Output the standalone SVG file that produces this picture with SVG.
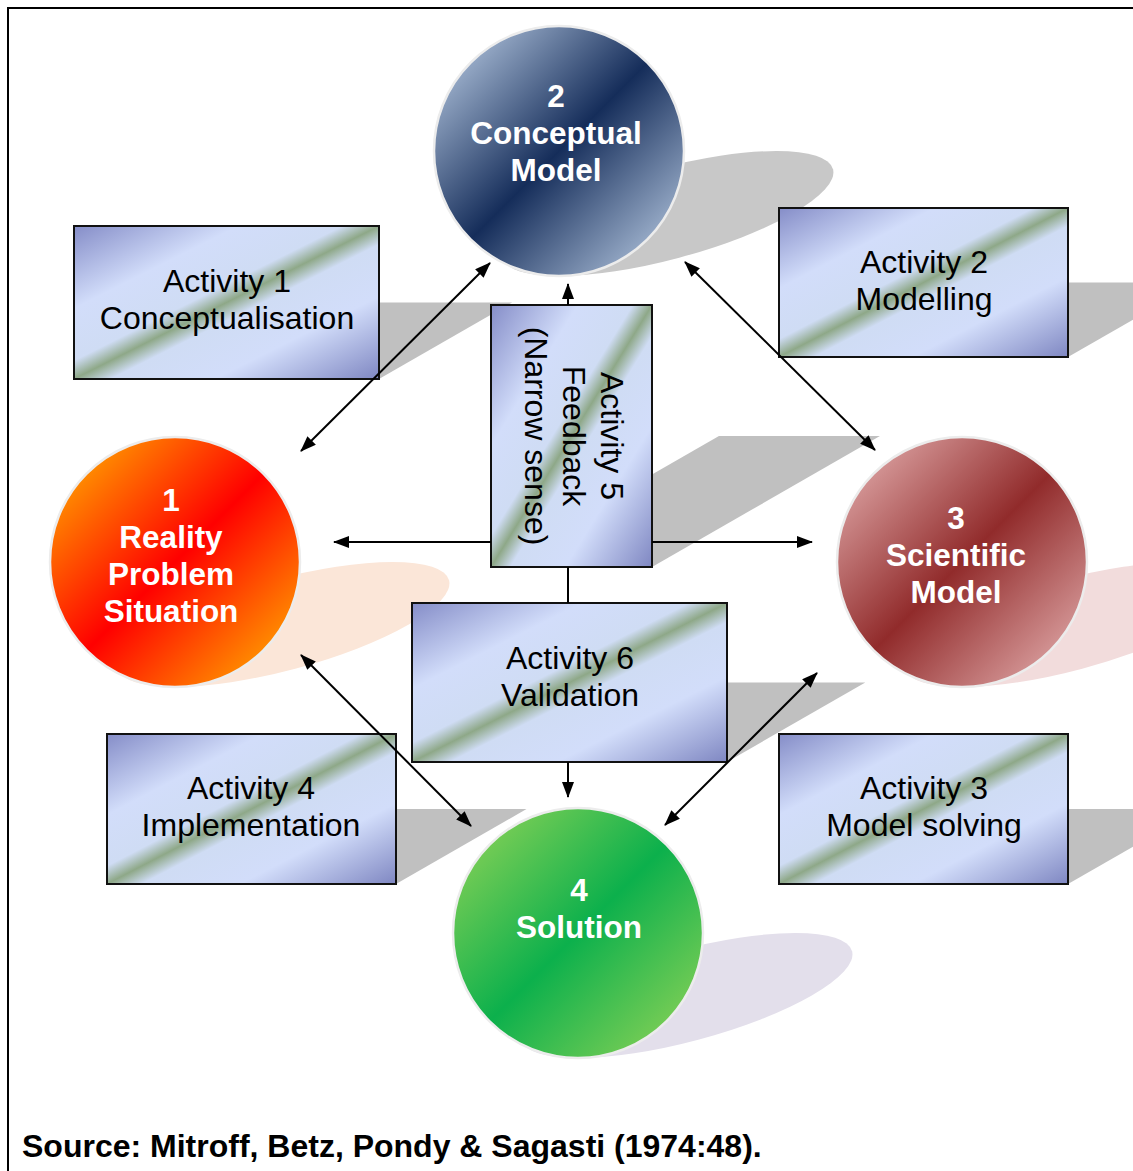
<svg xmlns="http://www.w3.org/2000/svg" width="1133" height="1171" viewBox="0 0 1133 1171">
<style>
.frame{fill:none;stroke:#000;stroke-width:2}
.rshadow{fill:#c0c0c0}
.box{fill:url(#boxGrad);stroke:#111;stroke-width:2}
.circ{stroke:#ececec;stroke-width:2.5}
.ctext{font-family:"Liberation Sans",Arial,sans-serif;font-weight:bold;font-size:31.5px;fill:#fff;text-anchor:middle}
.btext{font-family:"Liberation Sans",Arial,sans-serif;font-size:32px;fill:#000;text-anchor:middle}
.foot{font-family:"Liberation Sans",Arial,sans-serif;font-weight:bold;font-size:32px;fill:#000}
.conn line{stroke:#000;stroke-width:2}
</style>
<defs>
<linearGradient id="boxGrad" x1="0" y1="0" x2="1" y2="1">
<stop offset="0" stop-color="#858dc8"/>
<stop offset="0.27" stop-color="#d2ddfa"/>
<stop offset="0.44" stop-color="#cfdcf4"/>
<stop offset="0.5" stop-color="#8ea888"/>
<stop offset="0.56" stop-color="#cfdcf4"/>
<stop offset="0.73" stop-color="#d2ddfa"/>
<stop offset="1" stop-color="#7f87c2"/>
</linearGradient>
<linearGradient id="g1" x1="0" y1="0" x2="1" y2="1">
<stop offset="0" stop-color="#ffc000"/>
<stop offset="0.5" stop-color="#ff0000"/>
<stop offset="1" stop-color="#ffc000"/>
</linearGradient>
<linearGradient id="g2" x1="0" y1="0" x2="1" y2="1">
<stop offset="0" stop-color="#c8daf0"/>
<stop offset="0.5" stop-color="#152d5a"/>
<stop offset="1" stop-color="#c8daf0"/>
</linearGradient>
<linearGradient id="g3" x1="0" y1="0" x2="1" y2="1">
<stop offset="0" stop-color="#ecbcbc"/>
<stop offset="0.5" stop-color="#912b2b"/>
<stop offset="1" stop-color="#ecbcbc"/>
</linearGradient>
<linearGradient id="g4" x1="0" y1="0" x2="1" y2="1">
<stop offset="0" stop-color="#9ad658"/>
<stop offset="0.5" stop-color="#0cb04c"/>
<stop offset="1" stop-color="#9ad658"/>
</linearGradient>
<marker id="ah" viewBox="0 0 16 12" refX="15" refY="6" markerWidth="16" markerHeight="12" markerUnits="userSpaceOnUse" orient="auto-start-reverse">
<path d="M0,0 L16,6 L0,12 z" fill="#000"/>
</marker>
</defs>

<rect class="frame" x="8" y="8" width="1200" height="1200"/>

<g id="shadows">
<circle cx="559" cy="151" r="125" fill="#c8c8c8" transform="matrix(1 0 -0.87 0.5 240.1 138)"/>
<circle cx="175" cy="562" r="125" fill="#fbe6d8" transform="matrix(1 0 -0.87 0.5 597.7 343.5)"/>
<circle cx="962" cy="562" r="125" fill="#f2dcdc" transform="matrix(1 0 -0.87 0.5 597.7 343.5)"/>
<circle cx="578" cy="933" r="125" fill="#e3dfeb" transform="matrix(1 0 -0.87 0.5 920.5 529)"/>
<rect class="rshadow" x="74" y="226" width="305" height="153" transform="matrix(1 0 -0.87 0.5 329.7 189.5)"/>
<rect class="rshadow" x="779" y="208" width="289" height="149" transform="matrix(1 0 -0.87 0.5 310.6 178.5)"/>
<rect class="rshadow" x="779" y="734" width="289" height="150" transform="matrix(1 0 -0.87 0.5 769.1 442)"/>
<rect class="rshadow" x="107" y="734" width="289" height="150" transform="matrix(1 0 -0.87 0.5 769.1 442)"/>
<rect class="rshadow" x="491" y="305" width="161" height="262" transform="matrix(1 0 -0.87 0.5 493.3 283.5)"/>
<rect class="rshadow" x="412" y="603" width="315" height="159" transform="matrix(1 0 -0.87 0.5 662.9 381)"/>
</g>

<g id="node-circle2">
<circle class="circ" cx="559" cy="151" r="125" fill="url(#g2)"/>
<text class="ctext" x="556" y="107">2</text>
<text class="ctext" x="556" y="144">Conceptual</text>
<text class="ctext" x="556" y="181">Model</text>
</g>
<g id="node-circle1">
<circle class="circ" cx="175" cy="562" r="125" fill="url(#g1)"/>
<text class="ctext" x="171" y="511">1</text>
<text class="ctext" x="171" y="548">Reality</text>
<text class="ctext" x="171" y="585">Problem</text>
<text class="ctext" x="171" y="622">Situation</text>
</g>
<g id="node-circle3">
<circle class="circ" cx="962" cy="562" r="125" fill="url(#g3)"/>
<text class="ctext" x="956" y="529">3</text>
<text class="ctext" x="956" y="566">Scientific</text>
<text class="ctext" x="956" y="603">Model</text>
</g>
<g id="node-circle4">
<circle class="circ" cx="578" cy="933" r="125" fill="url(#g4)"/>
<text class="ctext" x="579" y="901">4</text>
<text class="ctext" x="579" y="938">Solution</text>
</g>

<g id="node-activity1">
<rect class="box" x="74" y="226" width="305" height="153"/>
<text class="btext" x="227" y="292">Activity 1</text>
<text class="btext" x="227" y="329">Conceptualisation</text>
</g>
<g id="node-activity2">
<rect class="box" x="779" y="208" width="289" height="149"/>
<text class="btext" x="924" y="273">Activity 2</text>
<text class="btext" x="924" y="310">Modelling</text>
</g>
<g id="node-activity3">
<rect class="box" x="779" y="734" width="289" height="150"/>
<text class="btext" x="924" y="799">Activity 3</text>
<text class="btext" x="924" y="836">Model solving</text>
</g>
<g id="node-activity4">
<rect class="box" x="107" y="734" width="289" height="150"/>
<text class="btext" x="251" y="799">Activity 4</text>
<text class="btext" x="251" y="836">Implementation</text>
</g>
<g id="node-activity5">
<rect class="box" x="491" y="305" width="161" height="262"/>
<text class="btext" transform="translate(601,436) rotate(90)">Activity 5</text>
<text class="btext" transform="translate(563,436) rotate(90)">Feedback</text>
<text class="btext" transform="translate(525,436) rotate(90)">(Narrow sense)</text>
</g>
<g id="node-activity6">
<rect class="box" x="412" y="603" width="315" height="159"/>
<text class="btext" x="570" y="669">Activity 6</text>
<text class="btext" x="570" y="706">Validation</text>
</g>

<g id="connectors" class="conn">
<line x1="301" y1="451" x2="490" y2="263" marker-start="url(#ah)" marker-end="url(#ah)"/>
<line x1="685" y1="262" x2="875" y2="450" marker-start="url(#ah)" marker-end="url(#ah)"/>
<line x1="817" y1="673" x2="665" y2="825" marker-start="url(#ah)" marker-end="url(#ah)"/>
<line x1="301" y1="655" x2="471" y2="826" marker-start="url(#ah)" marker-end="url(#ah)"/>
<line x1="568" y1="305" x2="568" y2="284" marker-end="url(#ah)"/>
<line x1="491" y1="542" x2="334" y2="542" marker-end="url(#ah)"/>
<line x1="652" y1="542" x2="812" y2="542" marker-end="url(#ah)"/>
<line x1="568" y1="567" x2="568" y2="603"/>
<line x1="568" y1="762" x2="568" y2="797" marker-end="url(#ah)"/>
</g>

<text class="foot" x="22" y="1157">Source: Mitroff, Betz, Pondy &amp; Sagasti (1974:48).</text>
</svg>
